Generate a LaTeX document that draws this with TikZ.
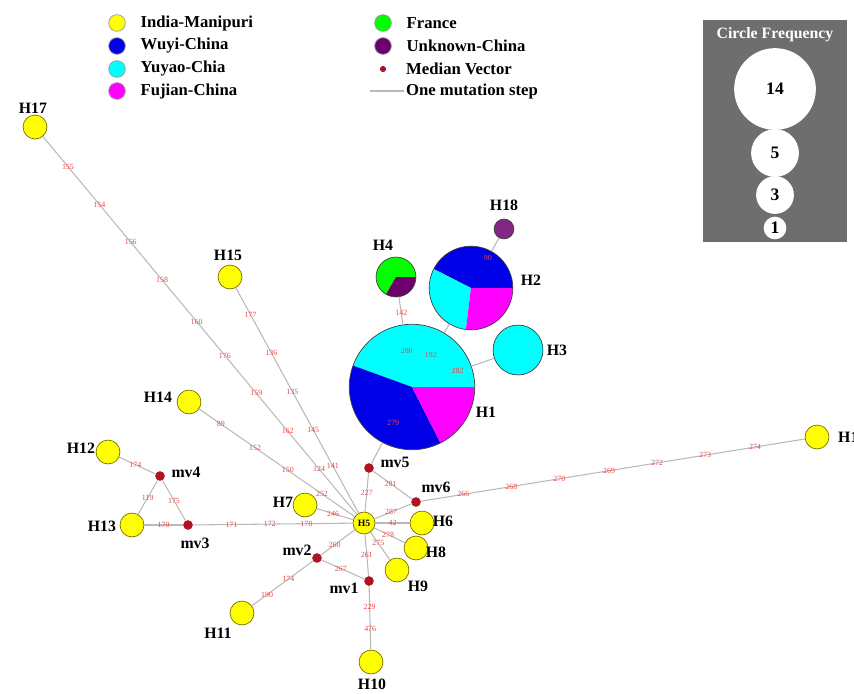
\documentclass[tikz,border=0pt]{standalone}
\usepackage{fontspec}
\setmainfont{Liberation Serif}
\usetikzlibrary{positioning}
\definecolor{hapyel}{RGB}{255,255,0}
\definecolor{hapedge}{RGB}{120,110,0}
\definecolor{mvred}{RGB}{175,20,35}
\definecolor{numred}{RGB}{235,70,70}
\definecolor{pcyan}{RGB}{0,255,255}
\definecolor{pblue}{RGB}{0,0,230}
\definecolor{pmag}{RGB}{255,0,255}
\definecolor{pgreen}{RGB}{0,255,0}
\definecolor{ppur}{RGB}{110,0,110}
\definecolor{boxgray}{RGB}{110,110,110}
\newcommand\pieslice[3]{\fill[#1] (path picture bounding box.center) -- ++(#2:40pt) arc[start angle=#2,end angle=#3,radius=40pt] -- cycle;}

\begin{document}
\begin{tikzpicture}[x=0.02cm,y=-0.02cm,
  every node/.style={font=\bfseries\fontsize{9}{10}\selectfont},
  hap/.style={circle,draw=hapedge,fill=hapyel,minimum size=13.6pt,inner sep=0pt},
  mv/.style={circle,fill=mvred,minimum size=5.5pt,inner sep=0pt},
  pie/.style={circle,draw=black!75,inner sep=0pt},
  n/.style={text=numred,font=\fontsize{4.5}{5}\selectfont,inner sep=0.3pt},
  l/.style={draw=gray!55,line width=0.6pt},
  dot/.style={circle,draw=black!40,minimum size=9.5pt,inner sep=0pt},
  lg/.style={font=\bfseries\fontsize{9.5}{10}\selectfont},
  fc/.style={circle,fill=white,inner sep=0pt,font=\bfseries\fontsize{10}{10}\selectfont}]
 \useasboundingbox (0,0) rectangle (854,693);
 \clip (0,0) rectangle (854,693);

 \node[dot,fill=hapyel] (kInd) at (117,23) {}; \node[lg,right=5pt of kInd] (tInd) {India-Manipuri};
 \node[dot,fill=pblue] (kWuy) at (117,46) {}; \node[lg,right=5pt of kWuy] (tWuy) {Wuyi-China};
 \node[dot,fill=pcyan] (kYuy) at (117,69) {}; \node[lg,right=5pt of kYuy] (tYuy) {Yuyao-Chia};
 \node[dot,fill=pmag] (kFuj) at (117,91) {}; \node[lg,right=5pt of kFuj] (tFuj) {Fujian-China};
 \node[dot,fill=pgreen] (kFra) at (383,23) {}; \node[lg,right=5pt of kFra] (tFra) {France};
 \node[dot,fill=ppur] (kUnk) at (383,46) {}; \node[lg,right=5pt of kUnk] (tUnk) {Unknown-China};
 \node[mv,minimum size=3.5pt] (kMed) at (383,69) {}; \node[lg,anchor=west] (tMed) at (400,69) {Median Vector};
 \coordinate (s0) at (370,91); \node[lg,anchor=west,inner sep=1pt] (tStep) at (404,91) {One mutation step};
 \draw[l] (s0) -- (tStep.west);

 \node[fill=boxgray,minimum width=81.6pt,minimum height=125.9pt,inner sep=0pt] (fbox) at (775,131) {};
 \node[text=white] (fTit) at (775,35) {Circle Frequency};
 \node[fc,minimum size=46.5pt] (f14) at (775,89) {14};
 \node[fc,minimum size=27.2pt] (f5) at (775,153) {5};
 \node[fc,minimum size=21.5pt] (f3) at (775,195) {3};
 \node[fc,minimum size=12.9pt] (f1) at (775,228) {1};

 \node[pie,minimum size=71.4pt,path picture={\pieslice{pcyan}{0}{160}\pieslice{pblue}{160}{297}\pieslice{pmag}{297}{360}}] (H1) at (412,387) {};
 \node[pie,minimum size=47.6pt,path picture={\pieslice{pblue}{0}{153}\pieslice{pcyan}{153}{263}\pieslice{pmag}{263}{360}}] (H2) at (471,288) {};
 \node[pie,minimum size=28.4pt,fill=pcyan] (H3) at (518,350) {};
 \node[pie,minimum size=22.7pt,path picture={\pieslice{pgreen}{0}{240}\pieslice{ppur}{240}{360}}] (H4) at (396,277) {};
 \node[pie,minimum size=11.3pt,fill=ppur!85] (H18) at (504,229) {};
 \node[hap,font=\bfseries\fontsize{5.5}{6}\selectfont,minimum size=12.5pt] (H5) at (364,523) {H5};
 \node[hap] (H6) at (422,523) {}; \node[hap] (H7) at (305,505) {};
 \node[hap] (H8) at (416,548) {}; \node[hap] (H9) at (397,570) {};
 \node[hap] (H10) at (371,662) {}; \node[hap] (H11) at (242,613) {};
 \node[hap] (H12) at (108,452) {}; \node[hap] (H13) at (132,525) {};
 \node[hap] (H14) at (189,402) {}; \node[hap] (H15) at (230,277) {};
 \node[hap] (H16) at (817,437) {}; \node[hap] (H17) at (35,127) {};
 \node[mv] (mv1) at (369,581) {}; \node[mv] (mv2) at (317,558) {};
 \node[mv] (mv3) at (188,525) {}; \node[mv] (mv4) at (160,476) {};
 \node[mv] (mv5) at (369,468) {}; \node[mv] (mv6) at (416,502) {};

 \node (tH1) at (486,412) {H1}; \node (tH2) at (531,280) {H2}; \node (tH3) at (557,350) {H3};
 \node (tH4) at (383,245) {H4}; \node (tH18) at (504,205) {H18}; \node (tH6) at (443,521) {H6};
 \node (tH7) at (283,502) {H7}; \node (tH8) at (436,552) {H8}; \node (tH9) at (418,586) {H9};
 \node (tH10) at (372,684) {H10}; \node (tH11) at (218,633) {H11}; \node (tH12) at (81,448) {H12};
 \node (tH13) at (102,526) {H13}; \node (tH14) at (158,397) {H14}; \node (tH15) at (228,255) {H15};
 \node[anchor=west] (tH16) at (832,437) {H16}; \node (tH17) at (33,108) {H17};
 \node (tmv1) at (344,588) {mv1}; \node (tmv2) at (297,550) {mv2}; \node (tmv3) at (195,543) {mv3};
 \node (tmv4) at (186,472) {mv4}; \node (tmv5) at (395,462) {mv5}; \node (tmv6) at (436,487) {mv6};

 \draw[l] (H4) -- (H1); \draw[l] (H2) -- (H1); \draw[l] (H18) -- (H2); \draw[l] (H3) -- (H1); \draw[l] (H1) -- (mv5);
 \path (H4.center) -- node[n,pos=.33]{142} node[n,pos=.67]{280} (H1.center);
 \path (H2.center) -- node[n,pos=.68]{192} (H1.center);
 \path (H18.center) -- node[n,pos=.49]{90} (H2.center);
 \path (H3.center) -- node[n,pos=.57]{282} (H1.center);
 \path (H1.center) -- node[n,pos=.44]{279} (mv5.center);

 \draw[l] (H17) -- node[n,pos=.08]{155} node[n,pos=.18]{154} node[n,pos=.28]{156} node[n,pos=.38]{158} node[n,pos=.49]{160} node[n,pos=.58]{176} node[n,pos=.68]{159} node[n,pos=.78]{162} node[n,pos=.88]{124} (H5);
 \draw[l] (H15) -- node[n,pos=.12]{177} node[n,pos=.29]{136} node[n,pos=.46]{135} node[n,pos=.63]{145} node[n,pos=.79]{141} (H5);
 \draw[l] (H14) -- node[n,pos=.14]{89} node[n,pos=.36]{152} node[n,pos=.57]{150} node[n,pos=.79]{252} (H5);
 \draw[l] (H7) -- node[n,pos=.45]{246} (H5);
 \draw[l] (mv5) -- node[n,pos=.5]{227} (H5);
 \draw[l] (mv5) -- node[n,pos=.45]{281} (mv6);
 \draw[l] (H5) -- node[n,pos=.45]{287} (mv6);
 \draw[l] (mv6) -- node[n,pos=.11]{266} node[n,pos=.235]{268} node[n,pos=.36]{270} node[n,pos=.49]{269} node[n,pos=.615]{272} node[n,pos=.74]{273} node[n,pos=.87]{274} (H16);
 \draw[l] (H5) -- node[n,pos=.5]{42} (H6);
 \draw[l] (H5) -- node[n,pos=.45]{278} (H8);
 \draw[l] (H5) -- node[n,pos=.4]{275} (H9);
 \draw[l] (H5) -- node[n,pos=.5]{261} (mv1);
 \draw[l] (mv2) -- node[n,pos=.4]{260} (H5);
 \draw[l] (mv2) -- node[n,pos=.45]{267} (mv1);
 \draw[l] (mv2) -- node[n,pos=.4]{174} node[n,pos=.75]{190} (H11);
 \draw[l] (mv1) -- node[n,pos=.33]{229} node[n,pos=.67]{476} (H10);
 \draw[l] (mv3) -- node[n,pos=.24]{171} node[n,pos=.48]{172} node[n,pos=.71]{178} (H5);
 \draw[l] (H13) -- node[n,pos=.5]{170} (mv3);
 \draw[l] (H13) -- node[n,pos=.5]{119} (mv4);
 \draw[l] (mv4) -- node[n,pos=.5]{175} (mv3);
 \draw[l] (H12) -- node[n,pos=.45]{174} (mv4);
\end{tikzpicture}
\end{document}
